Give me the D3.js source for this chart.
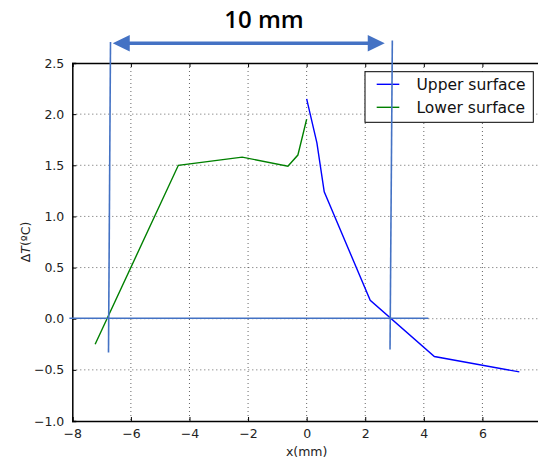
<!DOCTYPE html>
<html>
<head>
<meta charset="utf-8">
<script src="https://cdn.jsdelivr.net/npm/d3@7"></script>
<style>
  html, body { margin: 0; padding: 0; background: #fff; }
  svg { display: block; }
</style>
</head>
<body>
<svg id="chart" width="538" height="462"></svg>
<script>
// ---- data ----
const upperX = [0, 0.35, 0.6, 2.17, 4.36, 7.26];
const upperY = [2.15, 1.72, 1.24, 0.18, -0.37, -0.52];
const lowerX = [-7.22, -4.38, -2.2, -0.64, -0.3, 0];
const lowerY = [-0.25, 1.5, 1.58, 1.49, 1.6, 1.95];
const xTicks = [-8, -6, -4, -2, 0, 2, 4, 6];
const yTicks = [-1.0, -0.5, 0.0, 0.5, 1.0, 1.5, 2.0, 2.5];
const seriesNames = ["Upper surface", "Lower surface"];
// annotation (data units)
const markLeft = [[-6.696, 2.706], [-6.764, -0.33]];
const markRight = [[2.925, 2.72], [2.846, -0.30]];
const zeroLine = [[-8.1, 0.005], [4.155, 0.005]];
const arrowEnds = [[-6.62, 2.693], [2.666, 2.693]];
const annotText = "10 mm";

// ---- layout ----
const svg = d3.select("#chart");
const pLeft = 72.3, pRight = 541, pTop = 63, pBottom = 421;
const x = d3.scaleLinear().domain([-8, 8]).range([pLeft, pRight]);
const y = d3.scaleLinear().domain([-1, 2.5]).range([pBottom, pTop]);
const fmtY = d => d3.format(".1f")(d).replace("-", "\u2212");
const fmtX = d => String(d).replace("-", "\u2212");

// grid
const g = svg.append("g");
g.selectAll(".gx").data(xTicks.slice(1)).enter().append("line")
  .attr("x1", d => x(d)).attr("x2", d => x(d)).attr("y1", pTop).attr("y2", pBottom)
  .attr("stroke", "#333").attr("stroke-width", 1).attr("stroke-dasharray", "1,3").attr("opacity", 0.75);
g.selectAll(".gy").data(yTicks.slice(1, -1)).enter().append("line")
  .attr("x1", pLeft).attr("x2", pRight).attr("y1", d => y(d)).attr("y2", d => y(d))
  .attr("stroke", "#333").attr("stroke-width", 1).attr("stroke-dasharray", "1,3").attr("opacity", 0.75);

// axes
const axB = d3.axisBottom(x).tickValues(xTicks).tickSize(-4).tickPadding(8).tickFormat(fmtX);
const axL = d3.axisLeft(y).tickValues(yTicks).tickSize(-4).tickPadding(8).tickFormat(fmtY);
const axT = d3.axisTop(x).tickValues(xTicks).tickSize(-4).tickFormat("");
const gb = svg.append("g").attr("transform", `translate(0,${pBottom})`).call(axB);
const gl = svg.append("g").attr("transform", `translate(${pLeft},0)`).call(axL);
const gt = svg.append("g").attr("transform", `translate(0,${pTop})`).call(axT);
[gb, gl, gt].forEach(a => {
  a.select(".domain").attr("stroke", "#000").attr("stroke-width", 1.5);
  a.selectAll(".tick line").attr("stroke", "#000");
  a.selectAll("text").attr("fill", "#222").style("font-family", "DejaVu Sans").style("font-size", "12.5px");
});

// lines
const line = d3.line().x(d => x(d[0])).y(d => y(d[1]));
const upper = upperX.map((v, i) => [v, upperY[i]]);
const lower = lowerX.map((v, i) => [v, lowerY[i]]);
svg.append("path").datum(upper).attr("d", line).attr("fill", "none").attr("stroke", "#0000ff").attr("stroke-width", 1.4);
svg.append("path").datum(lower).attr("d", line).attr("fill", "none").attr("stroke", "#008000").attr("stroke-width", 1.4);

// axis labels
svg.append("text").attr("x", x(0)).attr("y", 456).attr("text-anchor", "middle")
  .style("font-family", "DejaVu Sans").style("font-size", "12.5px").attr("fill", "#222").text("x(mm)");
const yl = svg.append("text")
  .attr("text-anchor", "middle").style("font-family", "DejaVu Sans").style("font-size", "12.5px").attr("fill", "#222");
yl.attr("transform", `translate(30,${(pTop + pBottom) / 2}) rotate(-90)`);
yl.append("tspan").text("\u0394");
yl.append("tspan").style("font-style", "italic").text("T");
yl.append("tspan").text("(\u00baC)");

// legend
const lg = svg.append("g");
lg.append("rect").attr("x", 365).attr("y", 71.7).attr("width", 168.3).attr("height", 50.6)
  .attr("fill", "#fff").attr("stroke", "#000").attr("stroke-width", 1);
const legColors = ["#0000ff", "#008000"];
seriesNames.forEach((n, i) => {
  const yy = 84.3 + i * 23;
  lg.append("line").attr("x1", 376.7).attr("x2", 399.3).attr("y1", yy).attr("y2", yy)
    .attr("stroke", legColors[i]).attr("stroke-width", 1.4);
  lg.append("text").attr("x", 416.5).attr("y", yy + 5.5).style("font-family", "DejaVu Sans")
    .style("font-size", "15.5px").attr("fill", "#111").text(n);
});

// annotation
const ann = svg.append("g");
const annColor = "#4472C4";
[markLeft, markRight].forEach(m => {
  ann.append("line").attr("x1", x(m[0][0])).attr("y1", y(m[0][1])).attr("x2", x(m[1][0])).attr("y2", y(m[1][1]))
    .attr("stroke", annColor).attr("stroke-width", 1.6);
});
ann.append("line").attr("x1", x(zeroLine[0][0])).attr("y1", y(zeroLine[0][1]))
  .attr("x2", x(zeroLine[1][0])).attr("y2", y(zeroLine[1][1]))
  .attr("stroke", annColor).attr("stroke-width", 1.6);
const ax1 = x(arrowEnds[0][0]), ax2 = x(arrowEnds[1][0]), ay = y(arrowEnds[0][1]);
const headL = 17, headH = 8.3;
ann.append("line").attr("x1", ax1 + headL - 2).attr("x2", ax2 - headL + 2).attr("y1", ay).attr("y2", ay)
  .attr("stroke", annColor).attr("stroke-width", 3.3);
ann.append("path").attr("d", `M${ax1},${ay} L${ax1 + headL},${ay - headH} L${ax1 + headL},${ay + headH} Z`).attr("fill", annColor);
ann.append("path").attr("d", `M${ax2},${ay} L${ax2 - headL},${ay - headH} L${ax2 - headL},${ay + headH} Z`).attr("fill", annColor);
ann.append("text").attr("x", x(-1.455)).attr("y", y(2.843)).attr("text-anchor", "middle")
  .style("font-family", "Open Sans").style("font-weight", "600").style("font-size", "24px").attr("fill", "#000").text(annotText);
</script>
</body>
</html>
